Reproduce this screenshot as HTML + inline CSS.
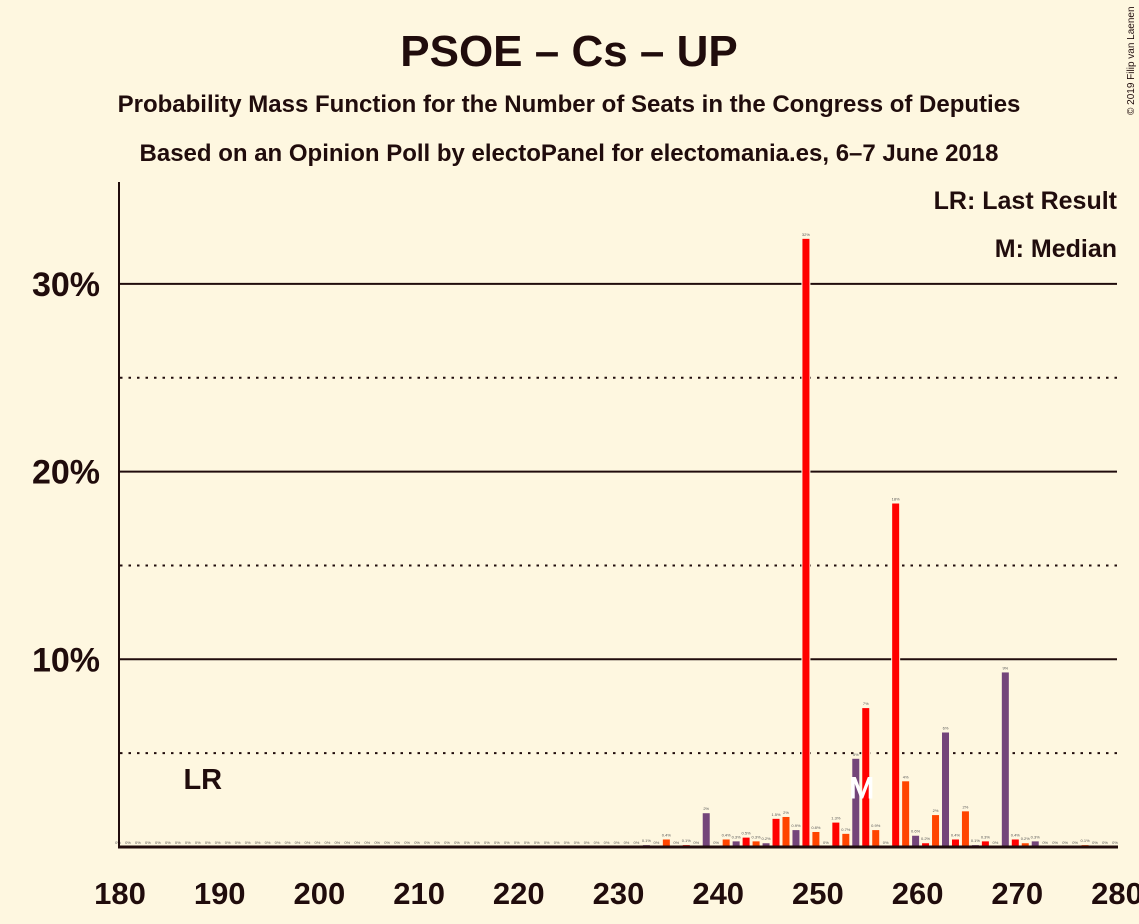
<!DOCTYPE html>
<html><head><meta charset="utf-8"><style>
body{margin:0;background:#fef7e0;}
svg{display:block;font-family:"Liberation Sans",sans-serif;}
</style></head><body>
<svg id="c" width="1139" height="924">
<rect width="1139" height="924" fill="#fef7e0"/>
<text x="569" y="66" text-anchor="middle" font-size="44" font-weight="bold" fill="#200c0c">PSOE – Cs – UP</text>
<text x="569" y="112" text-anchor="middle" font-size="24" font-weight="bold" fill="#200c0c">Probability Mass Function for the Number of Seats in the Congress of Deputies</text>
<text x="569" y="161" text-anchor="middle" font-size="24" font-weight="bold" fill="#200c0c">Based on an Opinion Poll by electoPanel for electomania.es, 6–7 June 2018</text>
<text x="1134" y="115" font-size="10" fill="#200c0c" transform="rotate(-90 1134 115)">© 2019 Filip van Laenen</text>
<g id="grid"></g>
<g id="bars"></g>
<g id="axes"></g>
<text x="1117" y="209" text-anchor="end" font-size="25" font-weight="bold" fill="#200c0c">LR: Last Result</text>
<text x="1117" y="257" text-anchor="end" font-size="25" font-weight="bold" fill="#200c0c">M: Median</text>
</svg>
<script>
const seats=[];for(let s=180;s<=280;s++)seats.push(s);
const valSeats=[233,235,237,239,241,242,243,244,245,246,247,248,249,250,252,253,254,255,256,258,259,260,261,262,263,264,265,266,267,269,270,271,272,277];
const values=[0.1,0.4,0.1,1.8,0.4,0.3,0.5,0.3,0.2,1.5,1.6,0.9,32.4,0.8,1.3,0.7,4.7,7.4,0.9,18.3,3.5,0.6,0.2,1.7,6.1,0.4,1.9,0.1,0.3,9.3,0.4,0.2,0.3,0.1];
const yTicks=[10,20,30];
const yMinor=[5,15,25];
const xTicks=[180,190,200,210,220,230,240,250,260,270,280];
const lastResult=187;
const median=255;
const colors=["#ff0000","#ff4500","#74457a"];
const NS="http://www.w3.org/2000/svg";
const X=s=>120+(s-180)*9.97;
const XB=s=>X(s)-2;
const Y=v=>847-v*18.77;
function mk(t,a,p){const e=document.createElementNS(NS,t);for(const k in a)e.setAttribute(k,a[k]);p.appendChild(e);return e;}
const grid=document.getElementById('grid'),bars=document.getElementById('bars'),axes=document.getElementById('axes');
yMinor.forEach(v=>{const l=mk('line',{x1:120,x2:1117,y1:Y(v),y2:Y(v),stroke:'#200c0c','stroke-width':2,'stroke-dasharray':'2.5,6'},grid);

});
yTicks.forEach(v=>{const l=mk('line',{x1:120,x2:1117,y1:Y(v),y2:Y(v),stroke:'#200c0c','stroke-width':2},grid);


const t=mk('text',{x:100,y:Y(v)+12,'text-anchor':'end','font-size':34,'font-weight':'bold',fill:'#200c0c'},axes);t.textContent=v+'%';

});
function fmt(v){if(v===0)return'0%';if(v<1.6)return v.toFixed(1)+'%';return Math.round(v)+'%';}
seats.forEach(s=>{const i=valSeats.indexOf(s);const v=i>=0?values[i]:0;const x=XB(s);
if(v>0){const r=mk('rect',{x:x-4.5,y:Y(v)-1.5,width:9,height:v*18.77+1.5,fill:'#fef7e0'},bars);


const b=mk('rect',{x:x-3.5,y:Y(v),width:7,height:v*18.77,fill:colors[s%3]},bars);

}
const t=mk('text',{x:x,y:Y(v)-3,'text-anchor':'middle','font-size':4,fill:'#555'},bars);t.textContent=fmt(v);

});
const m=mk('text',{x:XB(median)-4,y:Y(2.6),'text-anchor':'middle','font-size':30,fill:'#fff',stroke:'#fff','stroke-width':1},bars);m.textContent='M';


const lr=mk('text',{x:X(lastResult)+13,y:789,'text-anchor':'middle','font-size':29,'font-weight':'bold',fill:'#200c0c'},bars);lr.textContent='LR';


const ya=mk('line',{x1:119,x2:119,y1:182,y2:848,stroke:'#200c0c','stroke-width':2},axes);


const xa=mk('line',{x1:118,x2:1118,y1:847,y2:847,stroke:'#200c0c','stroke-width':3},axes);


xTicks.forEach(s=>{const t=mk('text',{x:X(s),y:904,'text-anchor':'middle','font-size':31,'font-weight':'bold',fill:'#200c0c'},axes);t.textContent=s;

});
</script>
</body></html>
